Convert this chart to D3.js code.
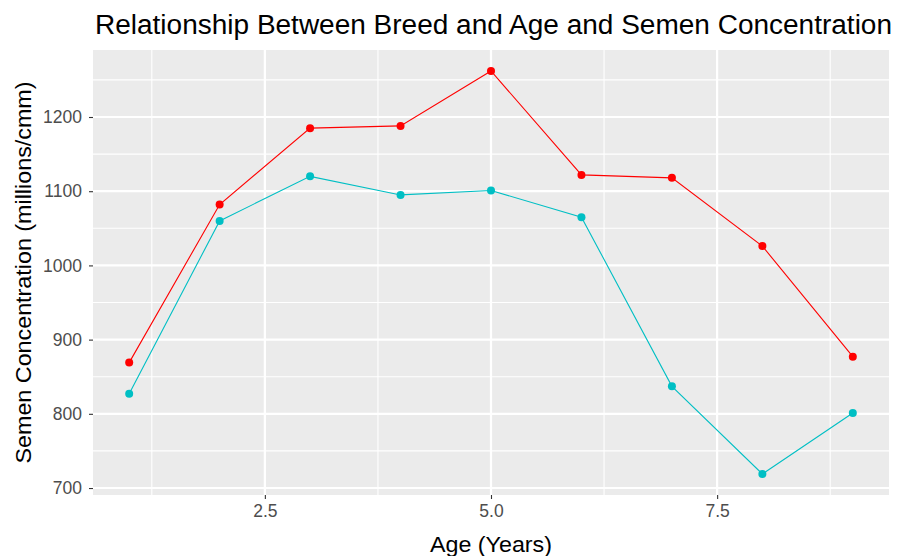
<!DOCTYPE html>
<html><head><meta charset="utf-8">
<script src="https://cdn.jsdelivr.net/npm/d3@7"></script>
<style>body{margin:0;background:#fff;} text{font-family:"Liberation Sans",Arial,sans-serif;}</style>
</head><body><svg id="c" width="898" height="556"></svg>
<script>
const ages = [1,2,3,4,5,6,7,8,9];
const breedA = [869,1082,1185,1188,1262,1122,1118,1026,877];
const breedB = [827,1060,1120,1095,1101,1065,837,719,801];
const xTicks = [2.5,5.0,7.5];
const yTicks = [700,800,900,1000,1100,1200];
const colors = ["#FF0000","#00BFC4"];

const svg = d3.select("#c");
const L=93,R=889,T=50,B=495;
const x = d3.scaleLinear().domain([0.6,9.4]).range([L,R]);
const y = d3.scaleLinear().domain([690.6,1290.3]).range([B,T]);
svg.append("rect").attr("x",L).attr("y",T).attr("width",R-L).attr("height",B-T).attr("fill","#EBEBEB");
const g = svg.append("g");
const xMinor=[1.25,3.75,6.25,8.75], yMinor=[750,850,950,1050,1150,1250];
xMinor.forEach(v=>g.append("line").attr("x1",x(v)).attr("x2",x(v)).attr("y1",T).attr("y2",B).attr("stroke","#fff").attr("stroke-width",1.1));
yMinor.forEach(v=>g.append("line").attr("y1",y(v)).attr("y2",y(v)).attr("x1",L).attr("x2",R).attr("stroke","#fff").attr("stroke-width",1.1));
xTicks.forEach(v=>g.append("line").attr("x1",x(v)).attr("x2",x(v)).attr("y1",T).attr("y2",B).attr("stroke","#fff").attr("stroke-width",2.2));
yTicks.forEach(v=>g.append("line").attr("y1",y(v)).attr("y2",y(v)).attr("x1",L).attr("x2",R).attr("stroke","#fff").attr("stroke-width",2.2));

const xAxis = d3.axisBottom(x).tickValues(xTicks).tickFormat(d3.format(".1f")).tickSizeOuter(0).tickSize(4).tickPadding(6);
const ya = d3.axisLeft(y).tickValues(yTicks).tickFormat(d3.format("d")).tickSizeOuter(0).tickSize(4).tickPadding(7);
const gx = svg.append("g").attr("transform",`translate(0,${B})`).call(xAxis);
const gy = svg.append("g").attr("transform",`translate(${L},0)`).call(ya);
[gx,gy].forEach(a=>{a.select(".domain").remove();a.selectAll("line").attr("stroke","#333").attr("stroke-width",1.1);a.selectAll("text").attr("fill","#4D4D4D").style("font-size","17.5px");});

const series=[breedA,breedB];
const line = d3.line().x((d,i)=>x(ages[i])).y(d=>y(d));
series.forEach((s,k)=>{
  svg.append("path").datum(s).attr("d",line).attr("fill","none").attr("stroke",colors[k]).attr("stroke-width",1.1);
  svg.selectAll(null).data(s).enter().append("circle").attr("cx",(d,i)=>x(ages[i])).attr("cy",d=>y(d)).attr("r",4).attr("fill",colors[k]);
});

svg.append("text").attr("x",95).attr("y",34).text("Relationship Between Breed and Age and Semen Concentration").style("font-size","27px").attr("textLength",797).attr("lengthAdjust","spacingAndGlyphs").attr("fill","#000");
svg.append("text").attr("x",(L+R)/2).attr("y",552).attr("text-anchor","middle").text("Age (Years)").style("font-size","22px").attr("textLength",122).attr("lengthAdjust","spacingAndGlyphs").attr("fill","#000");
svg.append("text").attr("transform",`translate(31,${(T+B)/2}) rotate(-90)`).attr("text-anchor","middle").text("Semen Concentration (millions/cmm)").style("font-size","22px").attr("textLength",382).attr("lengthAdjust","spacingAndGlyphs").attr("fill","#000");
</script></body></html>
